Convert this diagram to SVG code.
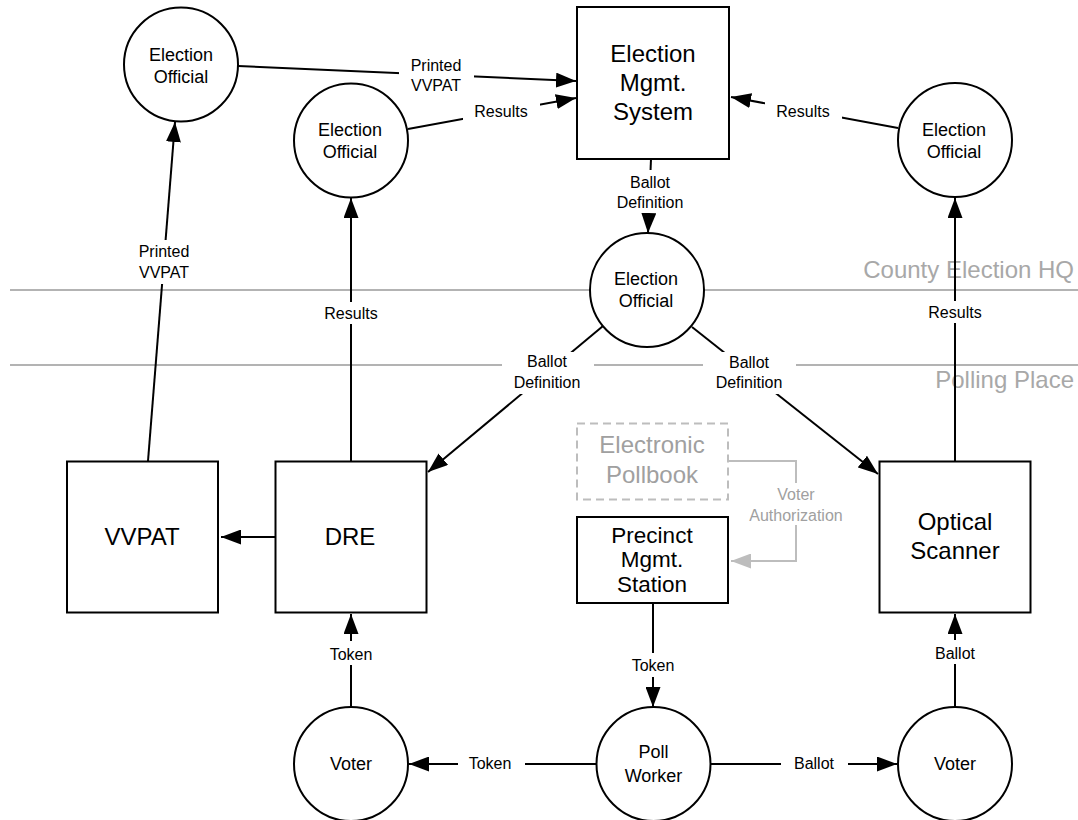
<svg xmlns="http://www.w3.org/2000/svg" width="1078" height="820" viewBox="0 0 1078 820">
<style>
text{font-family:"Liberation Sans",Arial,Helvetica,sans-serif;text-anchor:middle;fill:#000}
.nd{fill:#fff;stroke:#000;stroke-width:2}
.t18{font-size:18px}
.t24{font-size:24px}
.t22{font-size:22.5px}
.el{font-size:16px}
.zone{stroke:#b3b3b3;stroke-width:2;fill:none}
.zt{font-size:24px;fill:#a8a8a8;text-anchor:end}
.c{stroke:#000;stroke-width:2;fill:none;marker-end:url(#ah)}
.cg{stroke:#bdbdbd;stroke-width:2;fill:none;marker-end:url(#ahg)}
.bg{fill:#fff}
.gray{fill:#a0a0a0}
</style>
<defs>
<marker id="ah" markerUnits="userSpaceOnUse" markerWidth="20" markerHeight="15" refX="20" refY="7.5" orient="auto" viewBox="0 0 20 15">
<path d="M0,0 L20,7.5 L0,15 z" fill="#000"/>
</marker>
<marker id="ahg" markerUnits="userSpaceOnUse" markerWidth="20" markerHeight="15" refX="20" refY="7.5" orient="auto" viewBox="0 0 20 15">
<path d="M0,0 L20,7.5 L0,15 z" fill="#bdbdbd"/>
</marker>
</defs>
<rect width="1078" height="820" fill="#fff"/>
<g id="zones">
<line class="zone" x1="10" y1="290" x2="1078" y2="290"/>
<line class="zone" x1="10" y1="365" x2="1078" y2="365"/>
<text class="zt" x="1074" y="278">County Election HQ</text>
<text class="zt" x="1074" y="388">Polling Place</text>
</g>
<g id="connectors">
<path class="c" d="M238,66 L576,81"/>
<path class="c" d="M408,129 L576,98"/>
<path class="c" d="M898,128 L731,97"/>
<path class="c" d="M651,159 L648,233"/>
<path class="c" d="M603,326 L428,472"/>
<path class="c" d="M692,327 L878,474"/>
<path class="c" d="M351,461 L351,198"/>
<path class="c" d="M148,461 L175,122"/>
<path class="c" d="M955,461 L955,198"/>
<path class="c" d="M275,537 L221,537"/>
<path class="c" d="M351,707 L351,614"/>
<path class="c" d="M653,603 L653,707"/>
<path class="c" d="M955,707 L955,614"/>
<path class="c" d="M597,764 L409,764"/>
<path class="c" d="M710,764 L897,764"/>
<path class="cg" d="M728,461 H796 V561 H731"/>
<g id="edge-labels">
<rect class="bg" x="399" y="55" width="75" height="41"/>
<text class="el" x="436" y="71">Printed</text>
<text class="el" x="436" y="91">VVPAT</text>
<rect class="bg" x="463" y="100" width="77" height="23"/>
<text class="el" x="501" y="117">Results</text>
<rect class="bg" x="765" y="100" width="77" height="23"/>
<text class="el" x="803" y="117">Results</text>
<rect class="bg" x="610" y="170" width="80" height="43"/>
<text class="el" x="650" y="188">Ballot</text>
<text class="el" x="650" y="208">Definition</text>
<rect class="bg" x="502" y="352" width="92" height="42"/>
<text class="el" x="547" y="367">Ballot</text>
<text class="el" x="547" y="388">Definition</text>
<rect class="bg" x="703" y="352" width="93" height="42"/>
<text class="el" x="749" y="368">Ballot</text>
<text class="el" x="749" y="388">Definition</text>
<rect class="bg" x="322" y="302" width="58" height="22"/>
<text class="el" x="351" y="319">Results</text>
<rect class="bg" x="134" y="240" width="60" height="44"/>
<text class="el" x="164" y="257">Printed</text>
<text class="el" x="164" y="278">VVPAT</text>
<rect class="bg" x="926" y="301" width="58" height="22"/>
<text class="el" x="955" y="318">Results</text>
<rect class="bg" x="327" y="641" width="48" height="24"/>
<text class="el" x="351" y="660">Token</text>
<rect class="bg" x="629" y="653" width="48" height="24"/>
<text class="el" x="653" y="671">Token</text>
<rect class="bg" x="932" y="640" width="46" height="24"/>
<text class="el" x="955" y="659">Ballot</text>
<rect class="bg" x="458" y="752" width="67" height="22"/>
<text class="el" x="490" y="769">Token</text>
<rect class="bg" x="781" y="752" width="67" height="22"/>
<text class="el" x="814" y="769">Ballot</text>
<rect class="bg" x="746" y="483" width="100" height="42"/>
<text class="el gray" x="796" y="500">Voter</text>
<text class="el gray" x="796" y="521">Authorization</text>
</g>
</g>
<g id="eo1"><circle class="nd" cx="181" cy="64.5" r="57"/><text class="t18" x="181" y="61">Election</text><text class="t18" x="181" y="83">Official</text></g>
<g id="eo2"><circle class="nd" cx="351" cy="140.5" r="57"/><text class="t18" x="350" y="136">Election</text><text class="t18" x="350" y="158">Official</text></g>
<g id="ems"><rect class="nd" x="577" y="7" width="152" height="152"/><text class="t24" x="653" y="62">Election</text><text class="t24" x="653" y="91">Mgmt.</text><text class="t24" x="653" y="120">System</text></g>
<g id="eo3"><circle class="nd" cx="955" cy="140" r="57"/><text class="t18" x="954" y="136">Election</text><text class="t18" x="954" y="158">Official</text></g>
<g id="eo4"><circle class="nd" cx="647" cy="290" r="57"/><text class="t18" x="646" y="285">Election</text><text class="t18" x="646" y="307">Official</text></g>
<g id="vvpat"><rect class="nd" x="67" y="461.5" width="151" height="151"/><text class="t24" x="142" y="545">VVPAT</text></g>
<g id="dre"><rect class="nd" x="275.5" y="461.5" width="151" height="151"/><text class="t24" x="350" y="545">DRE</text></g>
<g id="pollbook"><rect x="577" y="423.5" width="151" height="76" fill="#fff" stroke="#bdbdbd" stroke-width="2" stroke-dasharray="8 5"/><text class="t24 gray" x="652" y="453">Electronic</text><text class="t24 gray" x="652" y="483">Pollbook</text></g>
<g id="pms"><rect class="nd" x="577" y="517" width="151" height="86"/><text class="t22" x="652" y="543">Precinct</text><text class="t22" x="652" y="567">Mgmt.</text><text class="t22" x="652" y="592">Station</text></g>
<g id="os"><rect class="nd" x="879.5" y="461.5" width="151" height="151"/><text class="t24" x="955" y="530">Optical</text><text class="t24" x="955" y="559">Scanner</text></g>
<g id="voter1"><circle class="nd" cx="351" cy="764" r="57"/><text class="t18" x="351" y="770">Voter</text></g>
<g id="pw"><circle class="nd" cx="653.5" cy="764" r="57"/><text class="t18" x="653.5" y="758">Poll</text><text class="t18" x="653.5" y="782">Worker</text></g>
<g id="voter2"><circle class="nd" cx="955" cy="764" r="57"/><text class="t18" x="955" y="770">Voter</text></g>
</svg>
